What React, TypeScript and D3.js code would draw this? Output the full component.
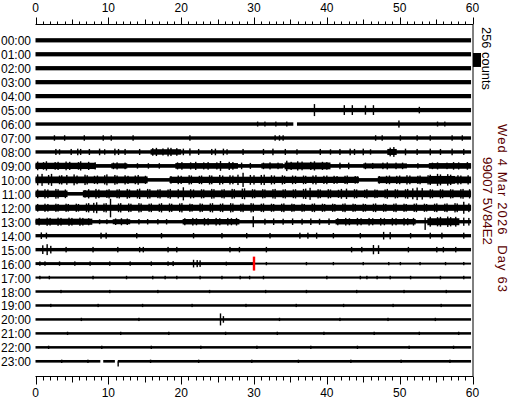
import React from "react";
import * as d3 from "d3";

const hourLabels = [
  "00:00", "01:00", "02:00", "03:00", "04:00", "05:00", "06:00", "07:00",
  "08:00", "09:00", "10:00", "11:00", "12:00", "13:00", "14:00", "15:00",
  "16:00", "17:00", "18:00", "19:00", "20:00", "21:00", "22:00", "23:00",
];
const minuteTicks = [0, 10, 20, 30, 40, 50, 60];
// background noise half-width (counts) per hour row
const baseAmp = [39, 39, 39, 39, 39, 39, 31, 31, 31, 34, 33, 33, 33, 31, 30, 31, 27, 20, 23, 23, 23, 23, 23, 24];
// [hour, fromMinute, newHalfWidth]
const bandChanges = [[16, 30, 18]];
// busy stretches: [hour, fromMinute, toMinute, halfWidth counts]
const activity = [
  [8, 15.8, 20, 50], [8, 48.3, 49.6, 55],
  [9, 0, 8.2, 58], [9, 10.4, 12.6, 48], [9, 19.2, 27.8, 52], [9, 31, 34, 48], [9, 34.2, 40.5, 62], [9, 45, 51, 46], [9, 54, 60, 52],
  [10, 0, 15.4, 62], [10, 18.4, 44.4, 58], [10, 47, 54, 60], [10, 54, 57.6, 72], [10, 57.6, 60, 62],
  [11, 0, 4.4, 60], [11, 6.5, 60, 62],
  [12, 0, 60, 56],
  [13, 0, 7.8, 56], [13, 10.6, 13, 46], [13, 20.2, 28, 50], [13, 41.2, 52.2, 50], [13, 53.8, 58.2, 64],
];
// [hour, startMinute, endMinute] data gaps
const gaps = [[6, 35.4, 35.9], [23, 8.9, 9.3], [23, 10.9, 11.3]];
const traceEnd = 59.8;
// [hour, minute, up counts, down counts]
const spikes: number[][] = [
  [5, 38.3, 110, 110], [5, 42.4, 90, 90], [5, 43.5, 90, 90], [5, 45.3, 85, 85], [5, 46.4, 90, 90], [5, 52.7, 60, 60],
  [6, 30.5, 45, 45], [6, 31.5, 45, 45], [6, 33, 45, 45], [6, 34.5, 45, 45], [6, 49.9, 65, 65], [6, 55.2, 45, 45], [6, 56.2, 45, 45],
  [7, 2.6, 50, 50], [7, 4, 50, 50], [7, 6.7, 50, 50], [7, 9.3, 50, 50], [7, 10.4, 50, 50], [7, 13.4, 50, 50], [7, 21.2, 50, 50],
  [7, 32.9, 50, 50], [7, 33.5, 50, 50], [7, 34, 50, 50], [7, 46.7, 50, 50], [7, 47.6, 50, 50], [7, 50.1, 50, 50], [7, 52.4, 50, 50],
  [7, 54.2, 50, 50], [7, 57.2, 50, 50], [7, 58.6, 50, 50],
  [8, 2.8, 55, 55], [8, 3.3, 50, 50], [8, 4.9, 55, 55], [8, 5.8, 60, 60], [8, 6.2, 55, 55], [8, 7.4, 55, 55], [8, 8.8, 60, 60],
  [8, 9.5, 50, 50], [8, 10.9, 60, 60], [8, 11.4, 55, 55], [8, 12.3, 55, 55], [8, 14.3, 55, 55], [8, 16.1, 70, 70], [8, 16.6, 75, 75],
  [8, 17.5, 65, 65], [8, 18.2, 80, 80], [8, 18.6, 75, 75], [8, 19.4, 70, 70], [8, 20.3, 60, 60], [8, 21.2, 65, 65], [8, 22.4, 55, 55],
  [8, 24.2, 55, 55], [8, 24.7, 60, 60], [8, 25.8, 60, 60], [8, 26.3, 50, 50], [8, 28.5, 55, 55], [8, 31.3, 55, 55], [8, 32.6, 60, 60],
  [8, 34.3, 55, 55], [8, 35.9, 50, 50], [8, 39.1, 55, 55], [8, 40.5, 50, 50], [8, 41.8, 55, 55], [8, 43.2, 60, 60], [8, 43.8, 55, 55],
  [8, 45, 60, 60], [8, 46, 50, 50], [8, 48.7, 80, 80], [8, 49.2, 90, 90], [8, 50.8, 60, 60], [8, 52.4, 55, 55], [8, 54.2, 60, 60],
  [8, 55.6, 55, 55], [8, 57.2, 60, 60], [8, 58.8, 55, 55],
  [9, 0.3, 80, 80], [9, 1.1, 70, 70], [9, 1.5, 85, 85], [9, 2.7, 70, 70], [9, 3.1, 75, 75], [9, 4.2, 80, 80],
  [9, 4.7, 75, 75], [9, 5.9, 70, 70], [9, 6.2, 85, 85], [9, 7.3, 75, 75], [9, 8.2, 65, 65], [9, 10.7, 60, 60],
  [9, 11.2, 65, 65], [9, 12.3, 60, 60], [9, 14, 50, 50], [9, 15.5, 50, 50], [9, 17, 50, 50], [9, 19.5, 65, 65], [9, 20.1, 70, 70],
  [9, 21.3, 65, 65], [9, 22, 75, 75], [9, 23.1, 65, 65], [9, 23.7, 70, 70], [9, 24.9, 65, 65], [9, 25.4, 90, 90], [9, 26.6, 75, 75],
  [9, 27.1, 70, 70], [9, 28.3, 60, 60], [9, 29.5, 55, 55], [9, 31.3, 60, 60], [9, 32.2, 65, 65], [9, 33.3, 60, 60], [9, 34.5, 95, 95],
  [9, 35.1, 75, 75], [9, 36, 85, 85], [9, 36.6, 80, 80], [9, 37.8, 75, 75], [9, 38.3, 85, 85], [9, 39.4, 75, 75], [9, 40, 70, 70],
  [9, 41.8, 60, 60], [9, 43, 60, 60], [9, 45.3, 60, 60], [9, 46.3, 55, 55], [9, 47.7, 60, 60], [9, 48.3, 65, 65], [9, 49.5, 60, 60],
  [9, 50.4, 60, 60], [9, 52.5, 50, 50], [9, 54.5, 60, 60], [9, 55.2, 65, 65], [9, 56.5, 60, 60], [9, 57.4, 70, 70], [9, 58.1, 65, 65],
  [9, 59.3, 70, 70],
  [10, 0.3, 100, 100], [10, 0.9, 110, 110], [10, 1.8, 90, 90], [10, 2.2, 110, 110], [10, 3.3, 80, 80], [10, 3.6, 85, 85],
  [10, 4.3, 90, 90], [10, 5.3, 100, 100], [10, 5.7, 80, 80], [10, 6.8, 95, 95], [10, 7.1, 85, 85], [10, 8.1, 75, 75], [10, 8.5, 80, 80],
  [10, 9.5, 85, 85], [10, 9.8, 100, 100], [10, 10.9, 90, 90], [10, 11.2, 80, 80], [10, 12.3, 85, 85], [10, 12.7, 75, 75],
  [10, 13.7, 80, 80], [10, 14.1, 90, 90], [10, 15.1, 75, 75], [10, 18.6, 70, 70], [10, 19.6, 80, 80],
  [10, 20, 75, 75], [10, 21.1, 85, 85], [10, 21.4, 80, 80], [10, 22.5, 75, 75], [10, 22.8, 80, 80], [10, 23.9, 85, 85],
  [10, 24.2, 80, 80], [10, 25.3, 90, 90], [10, 25.7, 80, 80], [10, 26.7, 85, 85], [10, 27.1, 80, 80], [10, 27.8, 95, 95],
  [10, 28.5, 130, 130], [10, 29.5, 90, 90], [10, 30, 85, 85], [10, 31, 90, 90], [10, 31.4, 95, 95], [10, 32.4, 85, 85],
  [10, 32.8, 80, 80], [10, 33.9, 85, 85], [10, 34.2, 75, 75], [10, 35.3, 80, 80], [10, 35.7, 75, 75], [10, 36.8, 80, 80],
  [10, 37.1, 75, 75], [10, 38.1, 80, 80], [10, 38.5, 85, 85], [10, 39.6, 75, 75], [10, 40, 80, 80], [10, 41, 75, 75],
  [10, 41.4, 70, 70], [10, 42.5, 75, 75], [10, 42.8, 80, 80], [10, 43.9, 70, 70], [10, 44.2, 65, 65], [10, 47.2, 70, 70],
  [10, 48.2, 75, 75], [10, 48.6, 80, 80], [10, 49.6, 75, 75], [10, 50, 80, 80], [10, 51, 85, 85], [10, 51.4, 80, 80],
  [10, 52.5, 75, 75], [10, 52.8, 80, 80], [10, 53.9, 85, 85], [10, 54.2, 95, 95], [10, 55.2, 110, 110], [10, 55.6, 100, 100],
  [10, 56.6, 105, 105], [10, 57, 95, 95], [10, 58, 85, 85], [10, 58.4, 80, 80], [10, 59.4, 85, 85],
  [11, 0.3, 80, 80], [11, 1.3, 85, 85], [11, 1.7, 80, 80], [11, 2.8, 90, 90], [11, 3.1, 85, 85], [11, 4.1, 80, 80],
  [11, 6.8, 70, 70], [11, 7.3, 85, 85], [11, 8.3, 90, 90], [11, 8.7, 80, 80], [11, 9.8, 75, 75], [11, 10.1, 85, 85], [11, 11.2, 80, 80],
  [11, 11.5, 85, 85], [11, 12.6, 90, 90], [11, 12.9, 80, 80], [11, 14, 85, 85], [11, 14.3, 95, 95], [11, 15.4, 90, 90],
  [11, 15.7, 85, 85], [11, 16.8, 80, 80], [11, 17.1, 85, 85], [11, 18.2, 80, 80], [11, 18.5, 90, 90], [11, 19.6, 85, 85],
  [11, 20.3, 120, 120], [11, 21.3, 85, 85], [11, 21.7, 80, 80], [11, 22.8, 85, 85], [11, 23.1, 80, 80],
  [11, 24.2, 90, 90], [11, 24.5, 85, 85], [11, 25.6, 80, 80], [11, 25.9, 85, 85], [11, 27, 90, 90], [11, 27.3, 85, 85],
  [11, 28.4, 95, 95], [11, 28.7, 100, 100], [11, 29.8, 85, 85], [11, 30.1, 80, 80], [11, 31.2, 85, 85], [11, 31.5, 80, 80],
  [11, 32.6, 85, 85], [11, 32.9, 90, 90], [11, 34, 80, 80], [11, 34.3, 85, 85], [11, 35.4, 80, 80], [11, 35.7, 85, 85],
  [11, 36.8, 90, 90], [11, 37.1, 95, 95], [11, 37.7, 110, 110], [11, 38.8, 85, 85], [11, 39.1, 80, 80], [11, 40.2, 85, 85],
  [11, 40.5, 80, 80], [11, 41.6, 75, 75], [11, 42, 90, 90], [11, 42.7, 95, 95], [11, 43.8, 85, 85], [11, 44.1, 80, 80],
  [11, 45.2, 75, 75], [11, 45.5, 85, 85], [11, 46.6, 80, 80], [11, 46.9, 75, 75], [11, 48, 80, 80], [11, 48.3, 90, 90],
  [11, 49.4, 85, 85], [11, 49.7, 80, 80], [11, 50.8, 85, 85], [11, 51.1, 90, 90], [11, 51.8, 100, 100], [11, 52.4, 115, 115],
  [11, 53.1, 105, 105], [11, 54.2, 85, 85], [11, 54.5, 80, 80], [11, 55.6, 85, 85], [11, 55.9, 80, 80], [11, 57, 85, 85],
  [11, 57.3, 80, 80], [11, 58.4, 85, 85], [11, 58.7, 90, 90], [11, 59.6, 85, 85],
  [12, 0.3, 70, 70], [12, 1.3, 75, 75], [12, 1.7, 70, 70], [12, 2.8, 75, 75], [12, 3.1, 70, 70], [12, 4.2, 75, 75], [12, 4.5, 70, 70],
  [12, 5.6, 75, 75], [12, 5.9, 70, 70], [12, 7, 80, 80], [12, 7.3, 85, 85], [12, 8, 90, 90], [12, 8.4, 100, 100], [12, 9.4, 80, 80],
  [12, 9.7, 85, 85], [12, 10.3, 165, 175], [12, 11.4, 80, 80], [12, 11.7, 85, 85], [12, 12.8, 80, 80], [12, 13.1, 75, 75],
  [12, 14.2, 85, 85], [12, 14.5, 80, 80], [12, 15.6, 75, 75], [12, 15.9, 80, 80], [12, 17, 75, 75], [12, 17.3, 85, 85],
  [12, 18.4, 80, 80], [12, 18.7, 75, 75], [12, 19.8, 80, 80], [12, 20.1, 85, 85], [12, 21.2, 75, 75], [12, 21.5, 70, 70],
  [12, 22.6, 80, 80], [12, 22.9, 75, 75], [12, 24, 80, 80], [12, 24.3, 85, 85], [12, 25.4, 75, 75], [12, 25.7, 80, 80],
  [12, 26.8, 85, 85], [12, 27.1, 80, 80], [12, 28.2, 75, 75], [12, 28.5, 80, 80], [12, 29.6, 85, 85], [12, 29.9, 80, 80],
  [12, 31, 75, 75], [12, 31.3, 80, 80], [12, 32.4, 75, 75], [12, 32.7, 70, 70], [12, 33.8, 75, 75], [12, 34.1, 80, 80],
  [12, 35.2, 75, 75], [12, 35.5, 70, 70], [12, 36.6, 75, 75], [12, 36.9, 70, 70], [12, 38, 75, 75], [12, 38.3, 80, 80],
  [12, 39.4, 75, 75], [12, 39.7, 70, 70], [12, 40.8, 75, 75], [12, 41.1, 70, 70], [12, 42.2, 75, 75], [12, 42.5, 80, 80],
  [12, 43.6, 75, 75], [12, 43.9, 70, 70], [12, 45, 75, 75], [12, 45.3, 70, 70], [12, 46.4, 75, 75], [12, 46.7, 80, 80],
  [12, 47.8, 75, 75], [12, 48.1, 70, 70], [12, 49.2, 75, 75], [12, 49.5, 80, 80], [12, 50.6, 75, 75], [12, 50.9, 70, 70],
  [12, 52, 75, 75], [12, 52.3, 80, 80], [12, 53.4, 75, 75], [12, 53.7, 70, 70], [12, 54.8, 75, 75], [12, 55.1, 80, 80],
  [12, 56.2, 75, 75], [12, 56.5, 80, 80], [12, 57.6, 85, 85], [12, 57.9, 80, 80], [12, 58.8, 110, 110], [12, 59.5, 80, 80],
  [13, 0.5, 70, 70], [13, 1.6, 75, 75], [13, 2, 70, 70], [13, 3.1, 75, 75], [13, 3.5, 70, 70], [13, 4.6, 75, 75], [13, 5, 70, 70],
  [13, 6.1, 75, 75], [13, 6.5, 70, 70], [13, 7.3, 65, 65], [13, 8.8, 45, 45], [13, 9.8, 45, 45], [13, 11, 60, 60], [13, 11.8, 65, 65],
  [13, 12.6, 60, 60], [13, 14.2, 50, 50], [13, 15.4, 50, 50], [13, 16.8, 50, 50], [13, 18, 50, 50], [13, 20.5, 65, 65],
  [13, 21.6, 70, 70], [13, 22.1, 65, 65], [13, 23.2, 70, 70], [13, 23.7, 65, 65], [13, 24.8, 70, 70], [13, 25.3, 65, 65],
  [13, 26.4, 70, 70], [13, 26.9, 65, 65], [13, 27.6, 70, 70], [13, 29.9, 100, 100], [13, 31.5, 55, 55], [13, 32.7, 60, 60],
  [13, 34, 55, 55], [13, 35.3, 60, 60], [13, 36.6, 55, 55], [13, 37.8, 60, 60], [13, 39, 55, 55], [13, 40.3, 60, 60],
  [13, 41.5, 65, 65], [13, 42.6, 70, 70], [13, 43.1, 65, 65], [13, 44.2, 70, 70], [13, 44.7, 65, 65], [13, 45.8, 70, 70],
  [13, 46.3, 65, 65], [13, 47.4, 70, 70], [13, 47.9, 65, 65], [13, 49, 70, 70], [13, 49.5, 65, 65], [13, 50.6, 70, 70],
  [13, 51.1, 65, 65], [13, 51.9, 70, 70], [13, 53.5, 75, 150], [13, 54.2, 90, 90], [13, 55.2, 85, 85], [13, 55.6, 90, 90],
  [13, 56.6, 95, 95], [13, 57, 85, 85], [13, 57.7, 90, 90], [13, 58.8, 75, 75], [13, 59.5, 70, 70],
  [14, 0.8, 60, 60], [14, 1.5, 55, 55], [14, 9, 55, 55], [14, 9.7, 55, 55], [14, 13.9, 50, 50], [14, 17.3, 50, 50],
  [14, 21.7, 50, 50], [14, 25.6, 50, 50], [14, 29, 50, 50], [14, 32.2, 50, 50], [14, 36.3, 55, 55], [14, 37.4, 55, 55],
  [14, 38.6, 55, 55], [14, 40.9, 50, 50], [14, 44.6, 50, 50], [14, 47.8, 70, 70], [14, 48.7, 65, 65], [14, 51.5, 50, 50],
  [14, 54.2, 55, 55], [14, 55.8, 55, 55], [14, 58.8, 55, 55],
  [15, 1, 80, 80], [15, 1.6, 100, 100], [15, 2.1, 70, 70], [15, 4.2, 50, 50], [15, 7.9, 50, 50], [15, 11.3, 50, 50],
  [15, 14.3, 50, 50], [15, 14.8, 50, 50], [15, 18.2, 50, 50], [15, 19.4, 50, 50], [15, 26.7, 50, 50], [15, 28, 50, 50],
  [15, 31.7, 50, 50], [15, 43.4, 50, 50], [15, 44.8, 50, 50], [15, 46.4, 85, 85], [15, 47.1, 80, 80], [15, 51.2, 50, 50],
  [15, 55.1, 50, 50], [15, 56, 50, 50], [15, 57.7, 50, 50],
  [16, 0.6, 40, 40], [16, 1.3, 40, 40], [16, 3.3, 40, 40], [16, 5.4, 40, 40], [16, 7.5, 40, 40], [16, 10.2, 40, 40],
  [16, 13, 40, 40], [16, 15.9, 40, 40], [16, 18.2, 40, 40], [16, 18.9, 45, 45], [16, 21.7, 70, 70], [16, 22.2, 65, 65],
  [16, 22.6, 60, 60], [16, 26.2, 35, 35], [16, 31.7, 30, 30], [16, 37.2, 30, 30], [16, 40.9, 30, 30], [16, 45, 30, 30],
  [16, 48.5, 30, 30], [16, 50.1, 30, 30], [16, 52.8, 30, 30], [16, 56.3, 30, 30], [16, 58.8, 30, 30],
  [17, 0.6, 32, 32], [17, 1.9, 32, 32], [17, 7.9, 32, 32], [17, 12.5, 32, 32], [17, 16.1, 32, 32], [17, 17.8, 32, 32],
  [17, 19.4, 32, 32], [17, 22.6, 32, 32], [17, 25.6, 32, 32], [17, 28.1, 32, 32], [17, 29.4, 32, 32], [17, 31.3, 32, 32],
  [17, 40, 32, 32], [17, 44.6, 32, 32], [17, 45.5, 32, 32], [17, 46.9, 32, 32], [17, 48.7, 32, 32], [17, 51.5, 32, 32],
  [17, 55.6, 32, 32], [17, 58.8, 32, 32],
  [18, 3.5, 30, 30], [18, 10.2, 30, 30], [18, 16.8, 30, 30], [18, 23.9, 30, 30], [18, 31.6, 30, 30], [18, 37.2, 30, 30],
  [18, 44.1, 30, 30], [18, 50.6, 30, 30], [18, 56.4, 30, 30],
  [19, 2.1, 30, 30], [19, 8.6, 30, 30], [19, 14.7, 30, 30], [19, 21.5, 30, 30], [19, 28.9, 30, 30], [19, 35.8, 30, 30],
  [19, 42.3, 30, 30], [19, 49.1, 30, 30], [19, 55.7, 30, 30],
  [20, 6.3, 30, 30], [20, 14.2, 30, 30], [20, 25.4, 110, 110], [20, 25.8, 60, 60], [20, 33.5, 30, 30], [20, 41.8, 30, 30],
  [20, 48.4, 30, 30], [20, 54.9, 30, 30],
  [21, 4.4, 30, 30], [21, 11.7, 30, 30], [21, 18.3, 30, 30], [21, 26.1, 30, 30], [21, 33.2, 30, 30], [21, 39.6, 30, 30],
  [21, 46.5, 30, 30], [21, 52.7, 30, 30], [21, 58.1, 30, 30],
  [22, 1.8, 30, 30], [22, 9.1, 30, 30], [22, 15.9, 30, 30], [22, 22.7, 30, 30], [22, 30.4, 30, 30], [22, 37.8, 30, 30],
  [22, 44.2, 30, 30], [22, 51.3, 30, 30], [22, 57.4, 30, 30],
  [23, 3.6, 30, 30], [23, 7.2, 30, 30], [23, 11.35, 0, 95], [23, 15.8, 30, 30], [23, 22.4, 30, 30], [23, 29.7, 30, 30],
  [23, 36.1, 30, 30], [23, 43.3, 30, 30], [23, 50.2, 30, 30], [23, 56.9, 30, 30],
];
// time marker: [hour, minute]
const markers = [[16, 30]];
const scaleCounts = 256;
const dateText = "Wed 4 Mar 2026  Day 63";
const stationText = "99007 5V84E2";

const FONT = "'Liberation Sans', Arial, sans-serif";

export default function App() {
  const x = d3.scaleLinear().domain([0, 60]).range([35.5, 472.5]);
  const y = d3.scalePoint<string>().domain(hourLabels).range([40.3, 361.3]);
  const rowStep = y.step();
  const amp = d3.scaleLinear().domain([0, 256]).range([0, rowStep]);

  // build band segments per row (excluding gaps, with half-width changes)
  const segs: { h: number; a: number; b: number; w: number }[] = [];
  hourLabels.forEach((_, h) => {
    const cuts = [0, traceEnd];
    const rowChanges = bandChanges.filter((c) => c[0] === h);
    rowChanges.forEach((c) => cuts.push(c[1]));
    const rowGaps = gaps.filter((g) => g[0] === h);
    rowGaps.forEach((g) => cuts.push(g[1], g[2]));
    const sorted = Array.from(new Set(cuts)).sort((p, q) => p - q);
    for (let i = 0; i < sorted.length - 1; i++) {
      const a = sorted[i], b = sorted[i + 1];
      const mid = (a + b) / 2;
      if (rowGaps.some((g) => mid > g[1] && mid < g[2])) continue;
      let w = baseAmp[h];
      rowChanges.forEach((c) => { if (mid > c[1]) w = c[2]; });
      segs.push({ h, a, b, w });
    }
  });

  const ticks = d3.range(0, 61, 1);
  const tickLen = (t: number, top: boolean) =>
    t % 10 === 0 ? (top ? 7 : 8) : t % 5 === 0 ? (top ? 5 : 6) : (top ? 3 : 4);

  const topY = 24.5;
  const botY = 376.5;

  return (
    <svg width={512} height={400} style={{ position: "absolute", left: 0, top: 0, background: "#fff" }}
      fontFamily={FONT}>
      <rect x={0} y={0} width={512} height={400} fill="#fff" />
      {/* top axis */}
      <line x1={x(0)} x2={x(60) + 0.5} y1={topY} y2={topY} stroke="#000" />
      {ticks.map((t) => (
        <line key={"tt" + t} x1={Math.round(x(t)) + 0.5} x2={Math.round(x(t)) + 0.5} y1={topY} y2={topY - tickLen(t, true)} stroke="#000" />
      ))}
      {minuteTicks.map((t) => (
        <text key={"tl" + t} x={x(t)} y={12} fontSize={12} textAnchor="middle" fill="#000">{t}</text>
      ))}
      {/* bottom axis */}
      <line x1={x(0)} x2={x(60) + 0.5} y1={botY} y2={botY} stroke="#000" />
      {ticks.map((t) => (
        <line key={"bt" + t} x1={Math.round(x(t)) + 0.5} x2={Math.round(x(t)) + 0.5} y1={botY} y2={botY + tickLen(t, false)} stroke="#000" />
      ))}
      {minuteTicks.map((t) => (
        <text key={"bl" + t} x={x(t)} y={397} fontSize={12} textAnchor="middle" fill="#000">{t}</text>
      ))}
      {/* right border */}
      <line x1={x(60) + 0.5} x2={x(60) + 0.5} y1={topY} y2={botY} stroke="#000" />

      {/* hour labels */}
      {hourLabels.map((hl) => (
        <text key={hl} x={31} y={(y(hl) as number) + 5} fontSize={12} textAnchor="end" fill="#000">{hl}</text>
      ))}

      {/* traces: background band */}
      {segs.map((s, i) => {
        const cy = y(hourLabels[s.h]) as number;
        return (
          <rect key={"s" + i} x={x(s.a)} y={cy - amp(s.w)} width={x(s.b) - x(s.a)} height={2 * amp(s.w)} fill="#000" />
        );
      })}
      {/* traces: busy stretches */}
      {activity.map((s, i) => {
        const cy = y(hourLabels[s[0]]) as number;
        return (
          <rect key={"a" + i} x={x(s[1])} y={cy - amp(s[3])} width={x(Math.min(s[2], traceEnd)) - x(s[1])} height={2 * amp(s[3])} fill="#000" />
        );
      })}
      {/* traces: bursts */}
      {spikes.map((sp, i) => {
        const cy = y(hourLabels[sp[0]]) as number;
        return (
          <rect key={"p" + i} x={x(sp[1]) - 0.7} y={cy - amp(sp[2])} width={1.4} height={amp(sp[2]) + amp(sp[3])} fill="#000" />
        );
      })}
      {/* time markers */}
      {markers.map((m, i) => {
        const cy = y(hourLabels[m[0]]) as number;
        return (
          <rect key={"m" + i} x={x(m[1]) - 1.2} y={cy - rowStep / 2} width={2.4} height={rowStep} fill="#ff0000" />
        );
      })}

      {/* scale bar */}
      <rect x={473} y={53} width={8} height={amp(scaleCounts)} fill="#000" />
      <text transform="translate(482,27) rotate(90)" fontSize={13} fill="#000" textLength={63} lengthAdjust="spacingAndGlyphs">{scaleCounts} counts</text>
      <text transform="translate(497.5,124) rotate(90)" fontSize={13} fill="#5a0000" textLength={168} lengthAdjust="spacing" style={{ whiteSpace: "pre" }}>{dateText}</text>
      <text transform="translate(482.5,157) rotate(90)" fontSize={13} fill="#5a0000" textLength={88} lengthAdjust="spacingAndGlyphs">{stationText}</text>
    </svg>
  );
}
